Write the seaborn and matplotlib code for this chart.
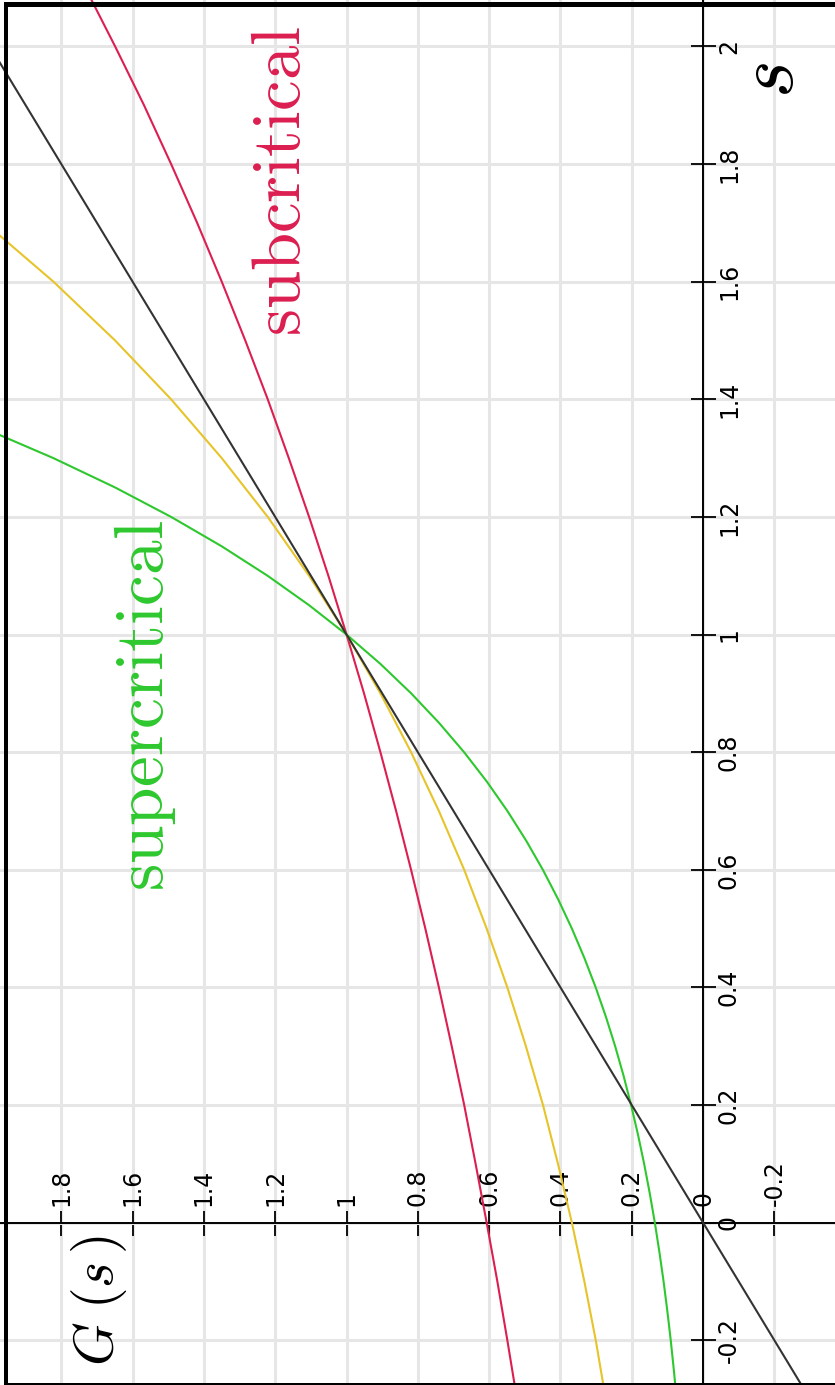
import matplotlib
matplotlib.use("Agg")
import matplotlib.pyplot as plt
import matplotlib.ticker as mticker
from matplotlib.patches import Rectangle
import seaborn as sns

# ---------------- data ----------------
s_coarse = [-0.3, -0.2, -0.1, 0.0, 0.1, 0.2, 0.3, 0.4, 0.5, 0.6, 0.7, 0.8,
            0.9, 1.0, 1.1, 1.2, 1.3, 1.4, 1.5, 1.6, 1.7, 1.8, 1.9, 2.0, 2.1]
G_sub = [0.522, 0.549, 0.577, 0.607, 0.638, 0.670, 0.705, 0.741, 0.779, 0.819,
         0.861, 0.905, 0.951, 1.000, 1.051, 1.105, 1.162, 1.221, 1.284, 1.350,
         1.419, 1.492, 1.568, 1.649, 1.733]
s_crit = [-0.3, -0.2, -0.1, 0.0, 0.1, 0.2, 0.3, 0.4, 0.5, 0.6, 0.7, 0.8,
          0.9, 1.0, 1.1, 1.2, 1.3, 1.4, 1.5, 1.6, 1.7]
G_crit = [0.273, 0.301, 0.333, 0.368, 0.407, 0.449, 0.497, 0.549, 0.607, 0.670,
          0.741, 0.819, 0.905, 1.000, 1.105, 1.221, 1.350, 1.492, 1.649, 1.822,
          2.014]
s_fine = [-0.30, -0.25, -0.20, -0.15, -0.10, -0.05, 0.00, 0.05, 0.10, 0.15,
          0.20, 0.25, 0.30, 0.35, 0.40, 0.45, 0.50, 0.55, 0.60, 0.65, 0.70,
          0.75, 0.80, 0.85, 0.90, 0.95, 1.00, 1.05, 1.10, 1.15, 1.20, 1.25,
          1.30, 1.35, 1.40]
G_super = [0.0743, 0.0821, 0.0907, 0.1003, 0.1108, 0.1225, 0.1353, 0.1496,
           0.1653, 0.1827, 0.2019, 0.2231, 0.2466, 0.2725, 0.3012, 0.3329,
           0.3679, 0.4066, 0.4493, 0.4966, 0.5488, 0.6065, 0.6703, 0.7408,
           0.8187, 0.9048, 1.0000, 1.1052, 1.2214, 1.3499, 1.4918, 1.6487,
           1.8221, 2.0138, 2.2255]
s_ident = [-0.3, 2.1]
G_ident = [-0.3, 2.1]

G_ticks = [-0.2, 0.0, 0.2, 0.4, 0.6, 0.8, 1.0, 1.2, 1.4, 1.6, 1.8]
G_tick_labels = ["-0.2", "0", "0.2", "0.4", "0.6", "0.8", "1", "1.2", "1.4", "1.6", "1.8"]
s_ticks = [-0.2, 0.0, 0.2, 0.4, 0.6, 0.8, 1.0, 1.2, 1.4, 1.6, 1.8, 2.0]
s_tick_labels = ["-0.2", "0", "0.2", "0.4", "0.6", "0.8", "1", "1.2", "1.4", "1.6", "1.8", "2"]

label_sub = "subcritical"
label_super = "supercritical"

# ---------------- style ----------------
sns.set_style("white")
plt.rcParams["font.family"] = ["DejaVu Sans"]
plt.rcParams["mathtext.fontset"] = "cm"

RED = "#dc1e50"
YEL = "#e6c42a"
GRN = "#2ec82e"
BLK = "#333333"

fig = plt.figure(figsize=(8.35, 13.85), dpi=100)
ax = fig.add_axes([0, 0, 1, 1])
ax.set_facecolor("white")

lw = 1.5
sns.lineplot(x=G_sub, y=s_coarse, orient="y", sort=False, estimator=None,
             color=RED, lw=lw, ax=ax)
sns.lineplot(x=G_crit, y=s_crit, orient="y", sort=False, estimator=None,
             color=YEL, lw=lw, ax=ax)
sns.lineplot(x=G_super, y=s_fine, orient="y", sort=False, estimator=None,
             color=GRN, lw=lw, ax=ax)
sns.lineplot(x=G_ident, y=s_ident, orient="y", sort=False, estimator=None,
             color=BLK, lw=lw, ax=ax)

ax.set_xlim(1.972, -0.370)
ax.set_ylim(-0.276, 2.079)

# axes through the origin
ax.yaxis.tick_right()
ax.xaxis.tick_top()
ax.spines["right"].set_position(("data", 0))
ax.spines["top"].set_position(("data", 0))
ax.spines["left"].set_visible(False)
ax.spines["bottom"].set_visible(False)
for k in ("right", "top"):
    ax.spines[k].set_color("black")
    ax.spines[k].set_linewidth(1.4)
    ax.spines[k].set_zorder(1.5)

ax.xaxis.set_major_locator(mticker.FixedLocator(G_ticks))
ax.xaxis.set_major_formatter(mticker.FixedFormatter(G_tick_labels))
ax.yaxis.set_major_locator(mticker.FixedLocator(s_ticks))
ax.yaxis.set_major_formatter(mticker.FixedFormatter(s_tick_labels))

ax.tick_params(axis="both", direction="inout", length=18, width=1.3,
               color="black", labelsize=17, labelcolor="black")
ax.tick_params(axis="x", pad=3, labelrotation=90)
ax.tick_params(axis="y", pad=1, labelrotation=90)
for lab in ax.get_yticklabels():
    lab.set_verticalalignment("center")
    lab.set_horizontalalignment("left")

ax.grid(True, color="#e6e6e6", lw=2.2)
ax.set_axisbelow(True)
ax.set_xlabel("")
ax.set_ylabel("")

# text labels
ax.text(1.130, 1.772, r"$\mathrm{" + label_sub + "}$", color=RED, fontsize=49.5,
        rotation=90, rotation_mode="anchor", ha="center", va="baseline")
ax.text(1.515, 0.879, r"$\mathrm{" + label_super + "}$", color=GRN, fontsize=50,
        rotation=90, rotation_mode="anchor", ha="center", va="baseline")
ax.text(1.655, -0.133, r"$G\;(s\,)$", color="black", fontsize=40,
        rotation=90, rotation_mode="anchor", ha="center", va="baseline")
ax.text(-0.252, 1.943, r"$s$", color="black", fontsize=58,
        rotation=90, rotation_mode="anchor", ha="center", va="baseline")

# outer frame
W, H = 835.0, 1385.0
fig.add_artist(Rectangle((4 / W, 0), 4 / W, (H - 2) / H, transform=fig.transFigure,
                         color="black", lw=0, zorder=10))
fig.add_artist(Rectangle((4 / W, (H - 7) / H), 1 - 4 / W, 5 / H, transform=fig.transFigure,
                         color="black", lw=0, zorder=10))
fig.add_artist(Rectangle((4 / W, 0), 1 - 4 / W, 2 / H, transform=fig.transFigure,
                         color="black", lw=0, zorder=10))

fig.savefig("out.png", dpi=100, facecolor="white")
